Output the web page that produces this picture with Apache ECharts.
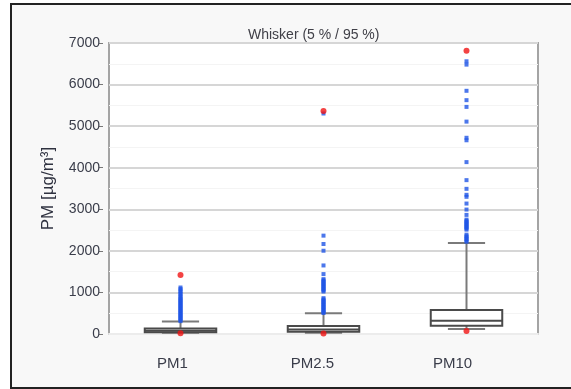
<!DOCTYPE html>
<html><head><meta charset="utf-8">
<script src="https://cdn.jsdelivr.net/npm/echarts@6/dist/echarts.min.js"></script>
<style>html,body{margin:0;padding:0;background:#fff}#c{width:571px;height:389px}</style>
</head><body><div id="c"></div><script>
// Particulate matter distributions, whiskers at the 5th / 95th percentile
const categories = ['PM1', 'PM2.5', 'PM10'];
const whiskerLow  = [30, 30, 121];
const q1          = [40, 55, 200];
const median      = [80, 110, 321];
const q3          = [130, 193, 579];
const whiskerHigh = [300, 500, 2190];
const minimum     = [20, 15, 72];
const maximum     = [1420, 5366, 6815];

// values beyond the upper whisker
const outliersPM1 = [1118, 1080, 1040, 1000, 960, 920, 880, 850, 820, 790, 760, 730, 700,
  670, 640, 610, 580, 550, 520, 490, 460, 430, 400, 370, 340, 310];
const outliersPM25 = [5304, 2366, 2165, 2003, 1649, 1441, 1320, 1290, 1260, 1230, 1200, 1170,
  1140, 1110, 1080, 1050, 1021, 862, 830, 800, 770, 740, 710, 680, 650, 620, 590, 560, 530, 505];
const outliersPM10 = [6560, 6480, 5850, 5625, 5463, 5109, 4720, 4660, 4135, 3701, 3492, 3348,
  3300, 3138, 2993, 2865, 2752, 2720, 2690, 2660, 2630, 2600, 2570, 2540, 2510, 2390, 2350,
  2320, 2286, 2250, 2220];

const yTicks = [0, 1000, 2000, 3000, 4000, 5000, 6000, 7000];
const labelShift = [16, 22, 28];

const boxData = categories.map((c, i) => [i, whiskerLow[i], q1[i], median[i], q3[i], whiskerHigh[i]]);
const outlierData = [];
[outliersPM1, outliersPM25, outliersPM10].forEach((arr, i) => arr.forEach(v => outlierData.push([i, v])));
const extremeData = [];
categories.forEach((c, i) => { extremeData.push([i, minimum[i]]); extremeData.push([i, maximum[i]]); });

function renderBox(params, api) {
  const cat = api.value(0);
  const band = api.size([1, 0])[0];
  const cx = api.coord([cat, 0])[0];
  const yWl = api.coord([cat, api.value(1)])[1];
  const yQ1 = api.coord([cat, api.value(2)])[1];
  const yMd = api.coord([cat, api.value(3)])[1];
  const yQ3 = api.coord([cat, api.value(4)])[1];
  const yWh = api.coord([cat, api.value(5)])[1];
  const bw = band * 0.5, cw = band * 0.26;
  const whiskerStyle = { stroke: '#7a7a7a', lineWidth: 2 };
  const boxStyle = { stroke: '#4a4a4a', lineWidth: 2 };
  return {
    type: 'group',
    children: [
      { type: 'line', shape: { x1: cx, y1: yQ3, x2: cx, y2: yWh }, style: whiskerStyle },
      { type: 'line', shape: { x1: cx, y1: yQ1, x2: cx, y2: yWl }, style: whiskerStyle },
      { type: 'line', shape: { x1: cx - cw / 2, y1: yWh, x2: cx + cw / 2, y2: yWh }, style: whiskerStyle },
      { type: 'line', shape: { x1: cx - cw / 2, y1: yWl, x2: cx + cw / 2, y2: yWl }, style: whiskerStyle },
      { type: 'rect', shape: { x: cx - bw / 2, y: yQ3, width: bw, height: yQ1 - yQ3 },
        style: { fill: '#fff', stroke: '#4a4a4a', lineWidth: 2 } },
      { type: 'line', shape: { x1: cx - bw / 2, y1: yMd, x2: cx + bw / 2, y2: yMd }, style: boxStyle }
    ]
  };
}

const chart = echarts.init(document.getElementById('c'), null, { renderer: 'canvas' });
chart.setOption({
  animation: false,
  backgroundColor: '#fff',
  textStyle: { fontFamily: 'Liberation Sans, Arial, sans-serif' },
  graphic: [{
    type: 'rect', z: -10, silent: true,
    shape: { x: 11, y: 4, width: 600, height: 384 },
    style: { fill: '#f8f8f8', stroke: '#222', lineWidth: 2 }
  }],
  title: {
    text: 'Whisker (5 % / 95 %)', left: 243, top: 23,
    textStyle: { fontSize: 14, fontWeight: 'normal', color: '#404048', fontFamily: 'Liberation Sans, Arial, sans-serif' }
  },
  grid: {
    left: 109, right: 33, top: 43, bottom: 55,
    show: true, backgroundColor: '#fff', borderColor: '#a4a4a4', borderWidth: 2
  },
  xAxis: [{
    type: 'category',
    data: categories.map((c, i) => ({ value: c, textStyle: { padding: [0, labelShift[i], 0, 0] } })),
    axisLine: { show: true, lineStyle: { color: '#ececec', width: 2 } },
    axisTick: { show: false },
    splitLine: { show: false },
    axisLabel: { fontSize: 15, color: '#3a3d4a', margin: 22 }
  }, {
    type: 'value', min: 0.5, max: 3.5, interval: 0.5, show: false, position: 'bottom',
    splitLine: { show: true, lineStyle: { color: '#f1f1f1', width: 1 } }
  }],
  yAxis: {
    type: 'value',
    min: yTicks[0], max: yTicks[yTicks.length - 1], interval: yTicks[1] - yTicks[0],
    offset: 6,
    name: 'PM [µg/m³]', nameLocation: 'middle', nameGap: 46,
    nameTextStyle: { fontSize: 17, color: '#2f3240' },
    axisLine: { show: false },
    axisTick: { show: true, length: 4, lineStyle: { color: '#777' } },
    axisLabel: { fontSize: 14, color: '#3a3d4a', margin: 3, formatter: v => String(v) },
    splitLine: { show: true, lineStyle: { color: '#d6d6d6', width: 2 } },
    minorTick: { show: false, splitNumber: 2 },
    minorSplitLine: { show: true, lineStyle: { color: '#f4f4f4', width: 1 } }
  },
  series: [{
    type: 'custom', renderItem: renderBox, data: boxData, z: 3,
    encode: { x: 0, y: [1, 2, 3, 4, 5] }
  }, {
    type: 'scatter', data: outlierData, symbol: 'rect', symbolSize: [4, 4], z: 4,
    itemStyle: { color: '#1f55e6' }
  }, {
    type: 'scatter', data: extremeData, symbol: 'circle', symbolSize: 6, z: 5,
    itemStyle: { color: '#f01414' }
  }]
});
</script></body></html>
